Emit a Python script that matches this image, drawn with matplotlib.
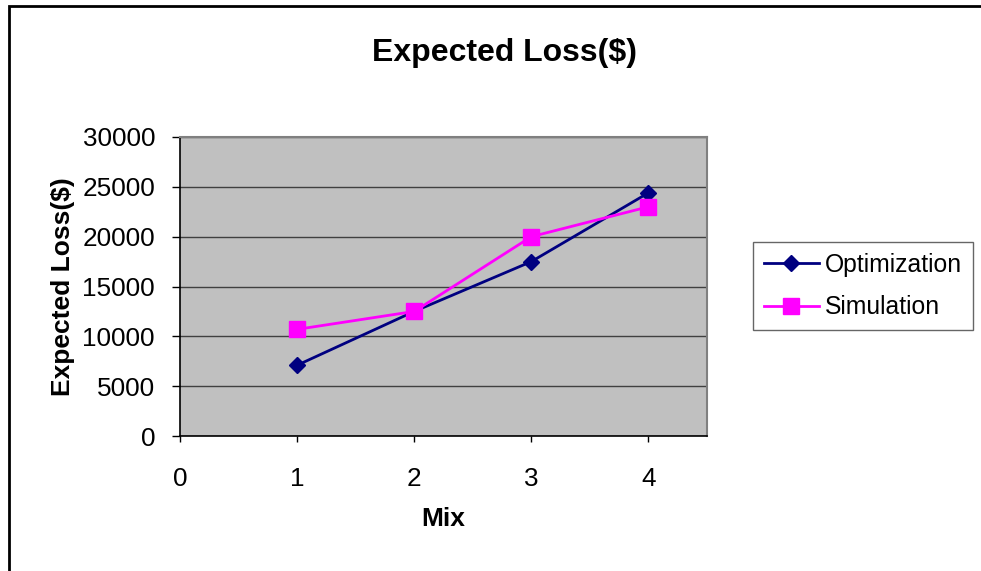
import matplotlib
matplotlib.use("Agg")
import matplotlib.pyplot as plt
from matplotlib.patches import Rectangle

# data
mix = [1, 2, 3, 4]
optimization = [7100, 12500, 17500, 24400]
simulation = [10700, 12500, 20000, 23000]

plt.rcParams['font.family'] = ['Liberation Sans', 'DejaVu Sans']

fig = plt.figure(figsize=(9.81, 5.71), dpi=100)
W, H = 981.0, 571.0

# outer chart border (Excel style)
fig.patches.append(Rectangle((9 / W, -0.1), 1.2, 1 - 6 / H + 0.1,
                             transform=fig.transFigure, fill=False,
                             edgecolor="black", linewidth=2))

ax = fig.add_axes([180 / W, 1 - 436 / H, 527 / W, 299 / H])
ax.set_facecolor("#C0C0C0")

ax.plot(mix, optimization, color="#000080", marker="D", markersize=8.5,
        linewidth=2, label="Optimization")
ax.plot(mix, simulation, color="#FF00FF", marker="s", markersize=11,
        linewidth=2, label="Simulation")

ax.set_xlim(0, 4.5)
ax.set_ylim(0, 30000)
ax.set_xticks([0, 1, 2, 3, 4])
ax.set_yticks(range(0, 30001, 5000))
ax.yaxis.grid(True, color="#404040", linewidth=1)
ax.set_axisbelow(True)

ax.tick_params(axis="y", length=6, width=1, pad=12, labelsize=18.8)
ax.tick_params(axis="x", length=4, width=1, pad=18, labelsize=18.8)

for s in ["left", "bottom"]:
    ax.spines[s].set_color("black")
    ax.spines[s].set_linewidth(1.2)
for s in ["top", "right"]:
    ax.spines[s].set_color("#808080")
    ax.spines[s].set_linewidth(1.5)

ax.set_xlabel("Mix", fontsize=19, fontweight="bold", labelpad=12)
ax.set_ylabel("Expected Loss($)", fontsize=19, fontweight="bold", labelpad=5)

fig.text(504 / W, 1 - 53 / H, "Expected Loss($)", fontsize=23,
         fontweight="bold", ha="center", va="center")

leg = fig.legend(loc="center left", bbox_to_anchor=(753 / W, 1 - 286 / H),
                 fontsize=17.8, frameon=True, fancybox=False,
                 handlelength=2.2, handletextpad=0.25, borderpad=0.45,
                 labelspacing=0.75, borderaxespad=0)
leg.get_frame().set_edgecolor("#404040")
leg.get_frame().set_linewidth(1)

plt.savefig("out.png", dpi=100)
